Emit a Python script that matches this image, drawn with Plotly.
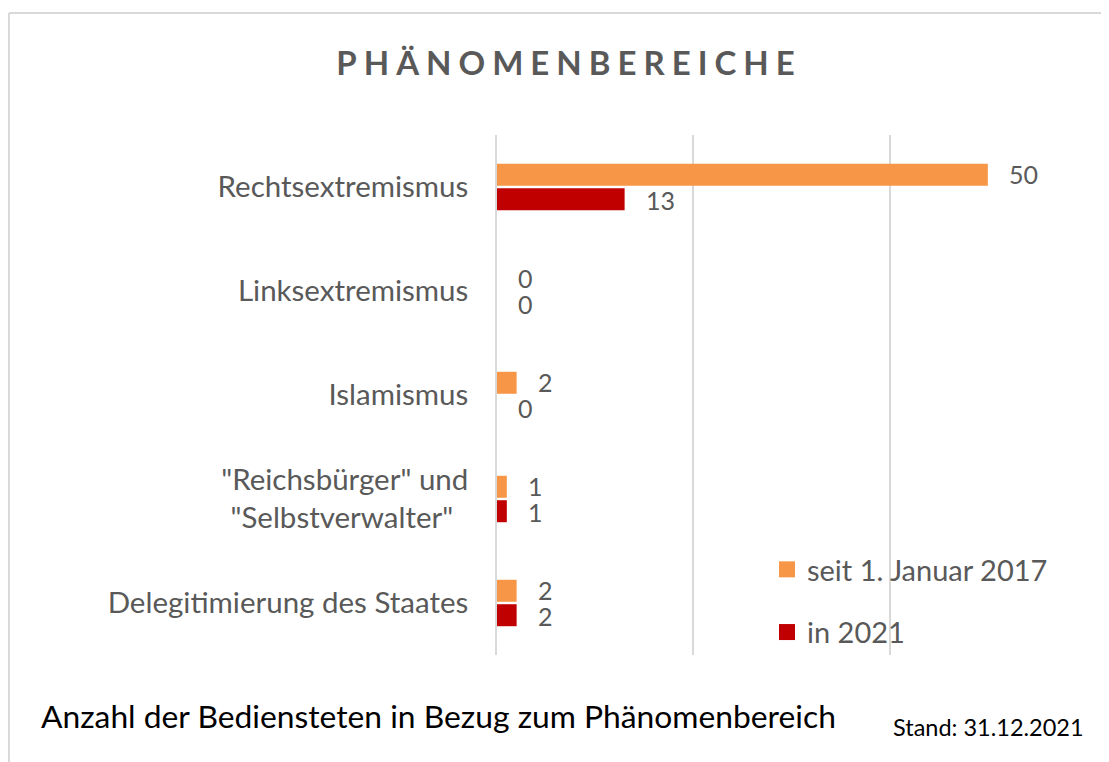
import plotly.graph_objects as go

categories = ["Rechtsextremismus", "Linksextremismus", "Islamismus",
              "\"Reichsbürger\" und<br>\"Selbstverwalter\"\u00a0\u00a0",
              "Delegitimierung des Staates"]
series_names = ["seit 1. Januar 2017", "in 2021"]
values_since_2017 = [50, 0, 2, 1, 2]
values_2021 = [13, 0, 0, 1, 2]
colors = ["#F79646", "#C00000"]

W, H = 1109, 762
OFF = 8  # page body margin offset
L, T = 497 - OFF, 135 - OFF
pw, ph = 589, 520
R, B = W - L - pw, H - T - ph

def px(xr):
    return (xr - OFF - L) / pw

def py(yr):
    return (T + ph - (yr - OFF)) / ph

FONT = "Lato, 'Open Sans', sans-serif"
GRAY = "#595959"

fig = go.Figure()
for name, vals, col in zip(series_names, [values_since_2017, values_2021], colors):
    fig.add_trace(go.Bar(y=categories, x=vals, orientation="h", name=name,
                         marker=dict(color=col, line=dict(width=0)),
                         showlegend=False, hoverinfo="x+y"))
# legend proxies (larger square symbols)
for i, (name, col) in enumerate(zip(series_names, colors)):
    fig.add_trace(go.Scatter(x=[None], y=[None], mode="markers", name=name,
                             legendgroup=f"g{i}",
                             marker=dict(symbol="square", size=16, color=col)))

annotations = []
for vals, shift in [(values_since_2017, 13), (values_2021, -13)]:
    for c, v in zip(categories, vals):
        annotations.append(dict(x=v, y=c, xref="x", yref="y", text=str(v),
                                showarrow=False, xanchor="left", yanchor="middle",
                                xshift=19, yshift=shift,
                                font=dict(family=FONT, size=25, color=GRAY)))

annotations.append(dict(x=px(39), y=py(716), xref="paper", yref="paper",
                        text="Anzahl der Bediensteten in Bezug zum Phänomenbereich",
                        showarrow=False, xanchor="left", yanchor="middle",
                        font=dict(family=FONT, size=31.8, color="#000000")))
annotations.append(dict(x=px(891), y=py(727), xref="paper", yref="paper",
                        text="Stand: 31.12.2021",
                        showarrow=False, xanchor="left", yanchor="middle",
                        font=dict(family=FONT, size=23.5, color="#000000")))

shapes = [
    dict(type="line", xref="paper", yref="paper", x0=px(9), x1=px(1125),
         y0=py(13), y1=py(13), line=dict(color="#D9D9D9", width=2)),
    dict(type="line", xref="paper", yref="paper", x0=px(9), x1=px(9),
         y0=py(13), y1=py(790), line=dict(color="#D9D9D9", width=2)),
]

fig.update_layout(
    width=W, height=H,
    margin=dict(l=L, r=R, t=T, b=B, autoexpand=False),
    paper_bgcolor="white", plot_bgcolor="white",
    barmode="group", bargap=0.53, bargroupgap=0.1,
    title=dict(text="<b>PHÄNOMENBEREICHE</b>", x=(569 - OFF) / W, xref="container",
               xanchor="center", y=1 - (63 - OFF) / H, yref="container", yanchor="middle",
               font=dict(family=FONT, size=33, color=GRAY)),
    xaxis=dict(range=[0, 60], dtick=20, tick0=0, showgrid=True,
               gridcolor="#D9D9D9", gridwidth=1.5, showticklabels=False,
               zeroline=False, showline=False, fixedrange=True),
    yaxis=dict(autorange="reversed", showline=True, linecolor="#D9D9D9",
               linewidth=1.5, showgrid=False, ticks="", ticklabelstandoff=21,
               tickfont=dict(family=FONT, size=29.5, color=GRAY), fixedrange=True),
    legend=dict(x=px(767), y=py(544), xanchor="left", yanchor="top",
                traceorder="grouped", tracegroupgap=22, bgcolor="rgba(0,0,0,0)",
                font=dict(family=FONT, size=29, color=GRAY)),
    annotations=annotations, shapes=shapes,
    showlegend=True,
)

post_js = """
var gd = document.getElementById('{plot_id}');
function spaceTitle(){
  var t = gd.querySelector('.gtitle');
  if (t) { t.style.letterSpacing = '7px'; }
}
spaceTitle();
if (gd.on) { gd.on('plotly_afterplot', spaceTitle); }
setTimeout(spaceTitle, 50);
"""

fig.write_html("out.html", post_script=post_js)
